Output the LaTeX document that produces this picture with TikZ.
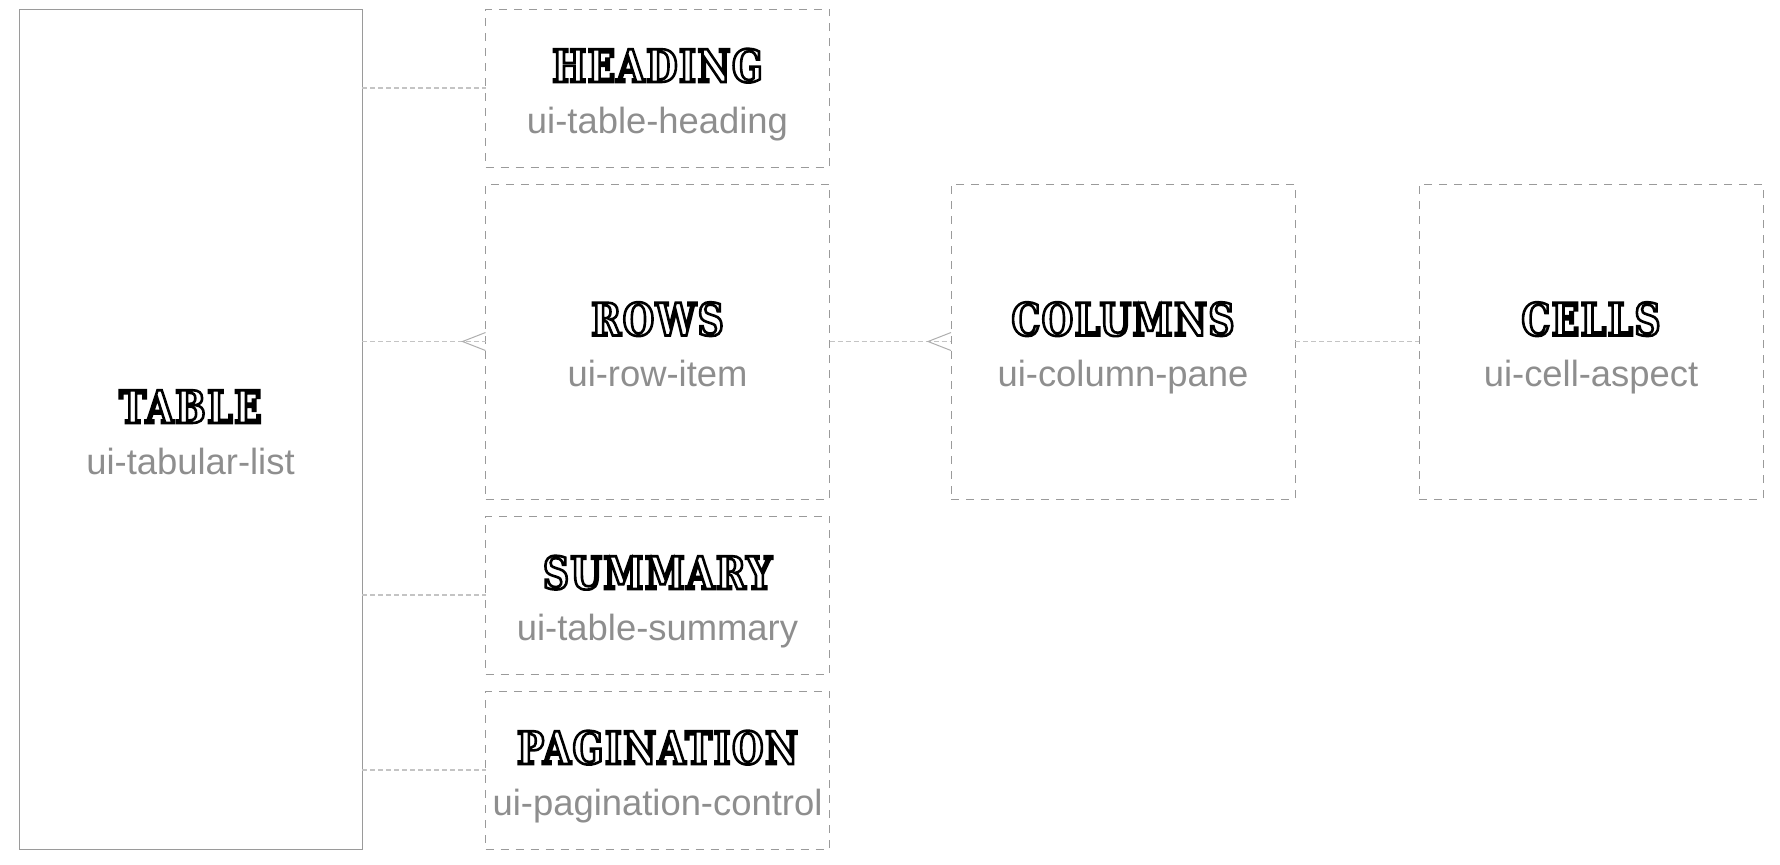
\documentclass[tikz,border=0pt]{standalone}
\usepackage{fontspec}
\setmainfont{Liberation Sans}
\newfontfamily\slabfont{DejaVu Serif}[FakeStretch=0.8, LetterSpace=3.5]
\usetikzlibrary{calc}
\definecolor{boxgray}{HTML}{9A9A9A}
\definecolor{linkgray}{HTML}{C4C4C4}
\definecolor{subgray}{HTML}{8E8E8E}
\def\outlined#1{\special{pdf:literal direct 1 Tr 1.3 w}#1\special{pdf:literal direct 0 Tr}}
\def\uibox(#1,#2,#3,#4,#5,#6,#7){
  \node[#1, minimum height=#5] (#2) at (#3,#4) {};
  \node[title, anchor=base] (#2_t) at ([yshift=3pt]#2.center) {\outlined{#6}};
  \node[subtitle, anchor=base] (#2_s) at ([yshift=-22.5pt]#2.center) {#7};
}

\begin{document}
\begin{tikzpicture}[x=0.5pt, y=-0.5pt,
  uibox/.style={draw=boxgray, line width=0.5pt, dash pattern=on 4pt off 3.5pt,
    minimum width=172pt, inner sep=0pt, outer sep=0pt},
  listbox/.style={uibox, solid, minimum width=171.5pt},
  title/.style={text=black, inner sep=0pt, font=\slabfont\bfseries\fontsize{22.5pt}{27pt}\selectfont},
  subtitle/.style={text=subgray, inner sep=0pt, font=\fontsize{18.2pt}{22pt}\selectfont},
  link/.style={draw=linkgray, line width=0.9pt, dash pattern=on 2.5pt off 1.5pt},
  crow/.style={draw=boxgray!80, line width=0.5pt}]
\useasboundingbox (0,0) rectangle (1780,864);
\uibox(listbox,table,190.5,429,420pt,TABLE,ui-tabular-list)
\uibox(uibox,heading,657.5,88,79pt,HEADING,ui-table-heading)
\uibox(uibox,rows,657.5,341.5,157.5pt,ROWS,ui-row-item)
\uibox(uibox,summary,657.5,595,79pt,SUMMARY,ui-table-summary)
\uibox(uibox,pagination,657.5,770,79pt,PAGINATION,ui-pagination-control)
\uibox(uibox,columns,1123,341.5,157.5pt,COLUMNS,ui-column-pane)
\uibox(uibox,cells,1591,341.5,157.5pt,CELLS,ui-cell-aspect)
% links from the list to its parts
\draw[link] (table.east |- heading.west) -- (heading.west);
\draw[link] (table.east |- rows.west) -- (rows.west);
\draw[link] (table.east |- summary.west) -- (summary.west);
\draw[link] (table.east |- pagination.west) -- (pagination.west);
\draw[link] (rows.east) -- (columns.west);
\draw[link] (columns.east) -- (cells.west);
% one-to-many feet
\draw[crow] ([yshift=4.5pt]rows.west) -- ([xshift=-11.5pt]rows.west) -- ([yshift=-4.5pt]rows.west);
\draw[crow] ([yshift=4.5pt]columns.west) -- ([xshift=-11.5pt]columns.west) -- ([yshift=-4.5pt]columns.west);
\end{tikzpicture}
\end{document}
